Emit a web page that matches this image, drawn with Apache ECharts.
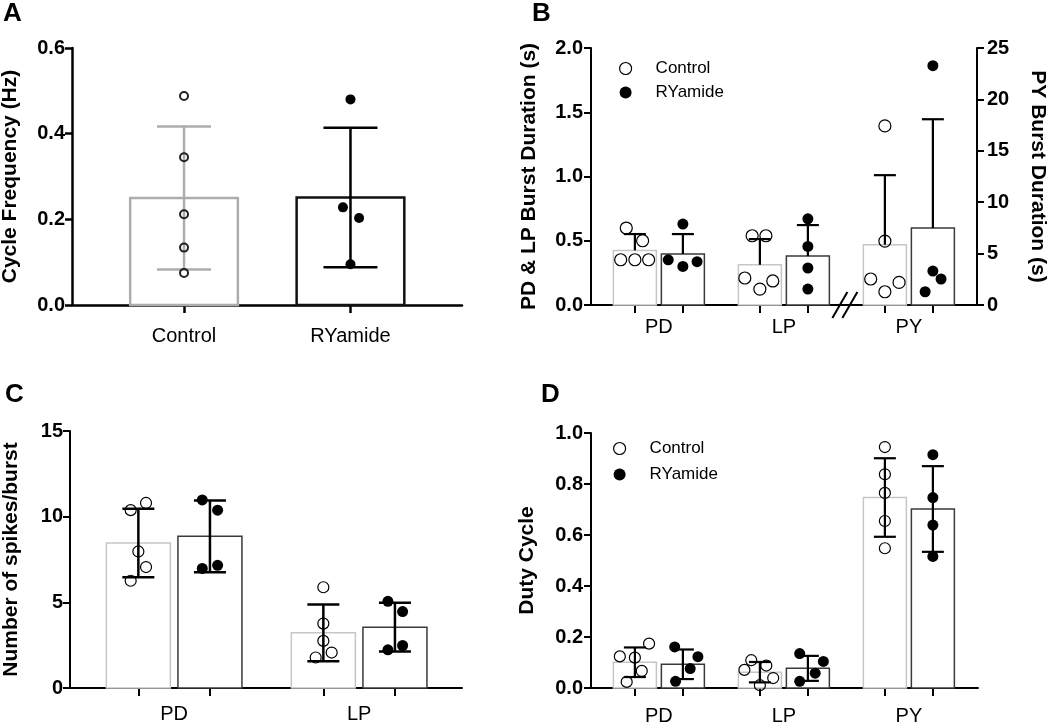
<!DOCTYPE html>
<html>
<head>
<meta charset="utf-8">
<title>RYamide burst parameters</title>
<script src="https://cdn.jsdelivr.net/npm/echarts@6.0.0/dist/echarts.min.js"></script>
<style>
  html, body { margin: 0; padding: 0; background: #fff; }
  #chart { width: 1050px; height: 726px; }
</style>
</head>
<body>
<div id="chart"></div>
<script>
// A: cycle frequency
const aGroups = ['Control', 'RYamide']
const aMean = [0.250, 0.251]
const aSd = [0.167, 0.163]
const aCtrlPts = [0.488, 0.345, 0.212, 0.134, 0.075]
const aRyPts = [0.480, 0.228, 0.203, 0.095]
const aRyJit = [0, -0.07, 0.08, 0]
const aTicks = [0, 0.2, 0.4, 0.6]

// B: burst duration (PY is read on the right axis)
const bGroups = ['PD', 'LP', 'PY']
const bCtrlMean = [0.425, 0.313, 5.86]
const bCtrlSd = [0.127, 0.200, 6.77]
const bRyMean = [0.397, 0.381, 7.48]
const bRySd = [0.155, 0.241, 10.59]
const bCtrlPts = [[0.599, 0.500, 0.352, 0.352, 0.352], [0.539, 0.539, 0.210, 0.124, 0.187], [17.42, 6.22, 2.53, 2.20, 1.29]]
const bCtrlJit = [[-0.20, 0.18, -0.33, 0, 0.32], [-0.18, 0.14, -0.35, 0, 0.30], [0, 0, -0.33, 0.33, 0]]
const bRyPts = [[0.630, 0.352, 0.300, 0.337], [0.671, 0.456, 0.288, 0.124], [23.28, 3.30, 2.53, 1.29]]
const bRyJit = [[0, -0.34, 0, 0.33], [0, 0, 0, 0], [0, 0, 0.19, -0.18]]
const bLeftTicks = [0, 0.5, 1.0, 1.5, 2.0]
const bRightTicks = [0, 5, 10, 15, 20, 25]

// C: spikes per burst
const cGroups = ['PD', 'LP']
const cCtrlMean = [8.46, 3.22]
const cCtrlSd = [2.00, 1.66]
const cRyMean = [8.85, 3.55]
const cRySd = [2.10, 1.42]
const cCtrlPts = [[10.80, 10.38, 7.97, 7.06, 6.26], [5.88, 3.76, 2.75, 2.07, 1.78]]
const cCtrlJit = [[0.12, -0.12, 0, 0.12, -0.12], [0, 0, 0, 0.13, -0.12]]
const cRyPts = [[10.98, 10.38, 6.98, 7.16], [5.06, 4.46, 2.48, 2.23]]
const cRyJit = [[-0.12, 0.12, -0.12, 0.12], [-0.11, 0.12, 0.12, -0.11]]
const cTicks = [0, 5, 10, 15]

// D: duty cycle
const dGroups = ['PD', 'LP', 'PY']
const dCtrlMean = [0.101, 0.062, 0.747]
const dCtrlSd = [0.058, 0.040, 0.154]
const dRyMean = [0.093, 0.077, 0.702]
const dRySd = [0.058, 0.049, 0.168]
const dCtrlPts = [[0.174, 0.124, 0.119, 0.067, 0.024], [0.109, 0.088, 0.071, 0.039, 0.011], [0.945, 0.838, 0.765, 0.655, 0.548]]
const dCtrlJit = [[0.33, -0.35, 0, 0.16, -0.19], [-0.20, 0.15, -0.36, 0.31, 0], [0, 0, 0, 0, 0]]
const dRyPts = [[0.161, 0.123, 0.076, 0.026], [0.135, 0.104, 0.058, 0.026], [0.915, 0.747, 0.639, 0.516]]
const dRyJit = [[-0.19, 0.35, 0.17, -0.17], [-0.19, 0.36, 0.17, -0.19], [0, 0, 0, 0]]
const dTicks = [0, 0.2, 0.4, 0.6, 0.8, 1.0]

const FONT = '"Liberation Sans", Arial, sans-serif'

const option = {
  animation: false,
  backgroundColor: '#fff',
  title: [],
  legend: [],
  grid: [],
  xAxis: [],
  yAxis: [],
  series: []
}

function yAxisOf(gi, ticks, dec, p, right) {
  return {
    type: 'value',
    gridIndex: gi,
    position: right ? 'right' : 'left',
    min: ticks[0],
    max: ticks[ticks.length - 1],
    interval: ticks[1] - ticks[0],
    axisLine: { show: true, onZero: false, lineStyle: { color: '#000', width: p.axisW } },
    axisTick: { show: true, customValues: ticks, length: 7, lineStyle: { color: '#000', width: p.axisW } },
    axisLabel: {
      customValues: ticks,
      formatter: v => v.toFixed(dec),
      margin: right ? p.rMargin : p.yMargin,
      color: '#000', fontSize: 20, fontWeight: 'bold', fontFamily: FONT
    },
    splitLine: { show: false },
    name: right ? p.rName : p.yName,
    nameLocation: 'middle',
    nameGap: right ? p.rGap : p.yGap,
    nameRotate: right ? -90 : 90,
    nameTextStyle: { color: '#000', fontSize: 21, fontWeight: 'bold', fontFamily: FONT }
  }
}

function addPanel(p) {
  const gi = option.grid.length
  option.grid.push({
    left: p.box[0], top: p.box[1], width: p.box[2], height: p.box[3],
    containLabel: false, outerBoundsMode: 'none'
  })
  const xi = option.xAxis.length
  option.xAxis.push({
    type: 'value',
    gridIndex: gi,
    min: p.xmin,
    max: p.xmax,
    axisLine: { show: true, onZero: false, lineStyle: { color: '#000', width: p.axisW } },
    axisTick: { show: true, customValues: p.items.map(it => it.x), length: 8, lineStyle: { color: '#000', width: p.axisW } },
    axisLabel: {
      customValues: p.groups.map((g, i) => i),
      formatter: v => p.groups[Math.round(v)],
      margin: p.xMargin,
      color: '#000', fontSize: 20, fontFamily: FONT
    },
    splitLine: { show: false }
  })
  const yi = option.yAxis.length
  option.yAxis.push(yAxisOf(gi, p.yTicks, p.yDec, p, false))
  if (p.rTicks) option.yAxis.push(yAxisOf(gi, p.rTicks, 0, p, true))

  p.items.forEach(it => {
    const ctrl = it.ctrl
    const yIndex = yi + (it.right ? 1 : 0)
    // bar
    option.series.push({
      type: 'custom', xAxisIndex: xi, yAxisIndex: yIndex, z: 1, silent: true,
      data: [[it.x, it.mean]],
      renderItem: (params, api) => {
        const a = api.coord([api.value(0) - p.barW / 2, 0])
        const b = api.coord([api.value(0) + p.barW / 2, api.value(1)])
        return {
          type: 'rect',
          shape: { x: a[0], y: b[1], width: b[0] - a[0], height: a[1] - b[1] },
          style: { fill: '#fff', stroke: ctrl ? p.ctrlEdge : p.ryEdge, lineWidth: p.edgeW }
        }
      }
    })
    // error bar (mean +/- SD, or mean + SD only)
    option.series.push({
      type: 'custom', xAxisIndex: xi, yAxisIndex: yIndex, z: 2, silent: true,
      data: [[it.x, it.mean, it.sd]],
      renderItem: (params, api) => {
        const x = api.value(0), m = api.value(1), s = api.value(2)
        const top = api.coord([x, m + s])
        const bot = api.coord([x, p.upperOnly ? m : m - s])
        const st = { stroke: ctrl ? p.errCtrl : '#000', lineWidth: p.errW, fill: null }
        const kids = [
          { type: 'line', shape: { x1: top[0], y1: top[1], x2: bot[0], y2: bot[1] }, style: st },
          { type: 'line', shape: { x1: top[0] - p.cap, y1: top[1], x2: top[0] + p.cap, y2: top[1] }, style: st }
        ]
        if (!p.upperOnly) {
          kids.push({ type: 'line', shape: { x1: bot[0] - p.cap, y1: bot[1], x2: bot[0] + p.cap, y2: bot[1] }, style: st })
        }
        return { type: 'group', children: kids }
      }
    })
    // individual preparations
    option.series.push({
      type: 'scatter', name: ctrl ? 'Control' : 'RYamide',
      xAxisIndex: xi, yAxisIndex: yIndex, z: 3, silent: true,
      symbol: 'circle',
      symbolSize: ctrl ? p.ctrlSize : p.rySize,
      itemStyle: ctrl
        ? { color: 'rgba(0,0,0,0)', borderColor: p.ring, borderWidth: p.ringW, opacity: 1 }
        : { color: '#000', borderWidth: 0, opacity: 1 },
      data: it.pts.map((v, k) => [it.x + (it.jit ? it.jit[k] : 0) * p.barW, v])
    })
  })
  return { xi: xi, yi: yi }
}

function pairItems(groups, off, cm, cs, cp, cj, rm, rs, rp, rj, rightIdx) {
  const out = []
  groups.forEach((g, i) => {
    const right = i === rightIdx
    out.push({ x: i - off, mean: cm[i], sd: cs[i], pts: cp[i], jit: cj[i], ctrl: true, right: right })
    out.push({ x: i + off, mean: rm[i], sd: rs[i], pts: rp[i], jit: rj[i], ctrl: false, right: right })
  })
  return out
}

// A
addPanel({
  box: [72, 48, 390, 257], xmin: -0.673, xmax: 1.67,
  groups: aGroups,
  items: [
    { x: 0, mean: aMean[0], sd: aSd[0], pts: aCtrlPts, jit: null, ctrl: true },
    { x: 1, mean: aMean[1], sd: aSd[1], pts: aRyPts, jit: aRyJit, ctrl: false }
  ],
  yTicks: aTicks, yDec: 1, yName: 'Cycle Frequency (Hz)', yGap: 51,
  axisW: 2.5, xMargin: 21, yMargin: 7,
  barW: 0.647, ctrlEdge: '#adadad', ryEdge: '#111', edgeW: 2.5,
  errCtrl: '#adadad', errW: 2.5, cap: 27, upperOnly: false,
  ctrlSize: 8, ring: '#222', ringW: 2, rySize: 10
})

// B
const bAx = addPanel({
  box: [591, 48, 386, 257], xmin: -0.543, xmax: 2.545,
  groups: bGroups,
  items: pairItems(bGroups, 0.192, bCtrlMean, bCtrlSd, bCtrlPts, bCtrlJit, bRyMean, bRySd, bRyPts, bRyJit, 2),
  yTicks: bLeftTicks, yDec: 1, yName: 'PD & LP Burst Duration (s)', yGap: 51,
  rTicks: bRightTicks, rName: 'PY Burst Duration (s)', rGap: 50, rMargin: 10,
  axisW: 2, xMargin: 12, yMargin: 8,
  barW: 0.344, ctrlEdge: '#c6c6c6', ryEdge: '#3a3a3a', edgeW: 1.5,
  errCtrl: '#000', errW: 2.2, cap: 11, upperOnly: true,
  ctrlSize: 12, ring: '#000', ringW: 1.2, rySize: 11
})

// axis break between LP and PY
option.series.push({
  type: 'custom', xAxisIndex: bAx.xi, yAxisIndex: bAx.yi, z: 4, silent: true,
  data: [[1.5, 0]],
  renderItem: (params, api) => {
    const c = api.coord([api.value(0), api.value(1)])
    const st = { stroke: '#000', lineWidth: 2 }
    return {
      type: 'group',
      children: [
        { type: 'line', shape: { x1: c[0] - 14, y1: c[1] + 13, x2: c[0] + 1, y2: c[1] - 13 }, style: st },
        { type: 'line', shape: { x1: c[0] - 4, y1: c[1] + 13, x2: c[0] + 11, y2: c[1] - 13 }, style: st }
      ]
    }
  }
})

// C
addPanel({
  box: [70, 431, 392, 257], xmin: -0.563, xmax: 1.556,
  groups: cGroups,
  items: pairItems(cGroups, 0.1935, cCtrlMean, cCtrlSd, cCtrlPts, cCtrlJit, cRyMean, cRySd, cRyPts, cRyJit, -1),
  yTicks: cTicks, yDec: 0, yName: 'Number of spikes/burst', yGap: 48,
  axisW: 2, xMargin: 16, yMargin: 7,
  barW: 0.346, ctrlEdge: '#c6c6c6', ryEdge: '#3a3a3a', edgeW: 1.5,
  errCtrl: '#000', errW: 2.5, cap: 16, upperOnly: false,
  ctrlSize: 11, ring: '#000', ringW: 1.2, rySize: 11
})

// D
addPanel({
  box: [591, 433, 387, 255], xmin: -0.543, xmax: 2.553,
  groups: dGroups,
  items: pairItems(dGroups, 0.192, dCtrlMean, dCtrlSd, dCtrlPts, dCtrlJit, dRyMean, dRySd, dRyPts, dRyJit, -1),
  yTicks: dTicks, yDec: 1, yName: 'Duty Cycle', yGap: 53,
  axisW: 2, xMargin: 18, yMargin: 8,
  barW: 0.344, ctrlEdge: '#c6c6c6', ryEdge: '#3a3a3a', edgeW: 1.5,
  errCtrl: '#000', errW: 2.2, cap: 11, upperOnly: false,
  ctrlSize: 11, ring: '#000', ringW: 1.2, rySize: 11
})

// legends for B and D
function legendAt(left, top, gap) {
  return {
    left: left, top: top, orient: 'vertical', padding: 0,
    itemWidth: 12, itemHeight: 12, itemGap: gap,
    selectedMode: false,
    textStyle: { color: '#000', fontSize: 17, lineHeight: 17, fontFamily: FONT, padding: [0, 0, 0, 19] },
    data: [
      { name: 'Control', icon: 'circle', itemStyle: { color: '#fff', borderColor: '#000', borderWidth: 1.2 } },
      { name: 'RYamide', icon: 'circle', itemStyle: { color: '#000', borderWidth: 0 } }
    ]
  }
}
option.legend.push(legendAt(619, 60, 7))
option.legend.push(legendAt(613, 440, 9))

// panel letters
const letterStyle = { color: '#000', fontSize: 26, fontWeight: 'bold', fontFamily: FONT }
option.title = [
  { text: 'A', left: 3, top: 1, padding: 0, textStyle: letterStyle },
  { text: 'B', left: 532, top: 1, padding: 0, textStyle: letterStyle },
  { text: 'C', left: 5, top: 382, padding: 0, textStyle: letterStyle },
  { text: 'D', left: 541, top: 382, padding: 0, textStyle: letterStyle }
]

const chart = echarts.init(document.getElementById('chart'))
chart.setOption(option)
window.addEventListener('resize', () => chart.resize())
</script>
</body>
</html>
